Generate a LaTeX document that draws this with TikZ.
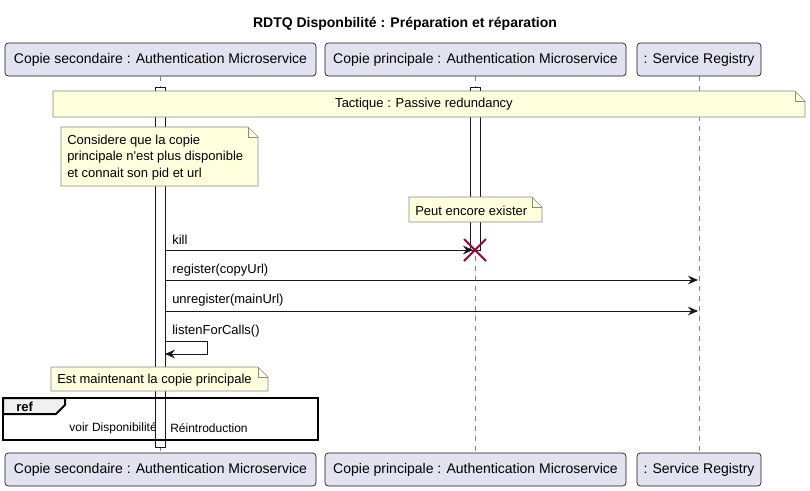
\documentclass[tikz,border=0pt]{standalone}
\usepackage{fontspec}
\setmainfont{Liberation Sans}
\usetikzlibrary{arrows.meta,calc}
\definecolor{partfill}{HTML}{E2E2F0}
\definecolor{notefill}{HTML}{FEFFDD}
\definecolor{deathred}{HTML}{A80036}
\definecolor{linegray}{HTML}{181818}
\definecolor{notegray}{HTML}{8A8A8A}
\begin{document}
\begin{tikzpicture}[x=0.75pt,y=-0.75pt,
 part/.style={draw=linegray, fill=partfill, rounded corners=2.5pt, inner sep=0pt, minimum height=24.75pt, font=\fontsize{10.5pt}{12pt}\selectfont, line width=0.5pt},
 lifeline/.style={draw=gray, dash pattern=on 3.75pt off 3.75pt, line width=0.5pt},
 actbar/.style={draw=linegray, fill=white, line width=0.75pt},
 notebox/.style={draw=notegray, fill=notefill, line width=0.5pt},
 msg/.style={draw=linegray, line width=0.75pt, -{Stealth[length=7.5pt,width=6.5pt,inset=2.5pt]}},
 lbl/.style={font=\fontsize{9.75pt}{11pt}\selectfont, inner sep=0pt, anchor=west},
 notetext/.style={font=\fontsize{9.75pt}{12.2pt}\selectfont, inner sep=0pt, anchor=west, align=left},
]
\useasboundingbox[fill=white] (0,0) rectangle (810,490);

% title
\node[font=\bfseries\fontsize{10.5pt}{12pt}\selectfont] (title) at (405,24) {RDTQ Disponbilité : Préparation et réparation};

% participants
\node[part, minimum width=233.25pt] (p1t) at (160.5,59.5) {Copie secondaire : Authentication Microservice};
\node[part, minimum width=225.75pt] (p2t) at (475.5,59.5) {Copie principale : Authentication Microservice};
\node[part, minimum width=93pt] (p3t) at (699,59.5) {: Service Registry};
\node[part, minimum width=233.25pt] (p1b) at (160.5,469.5) {Copie secondaire : Authentication Microservice};
\node[part, minimum width=225.75pt] (p2b) at (475.5,469.5) {Copie principale : Authentication Microservice};
\node[part, minimum width=93pt] (p3b) at (699,469.5) {: Service Registry};

% lifelines
\draw[lifeline] (p1t.south) -- (p1b.north);
\draw[lifeline] (p2t.south) -- (p2b.north);
\draw[lifeline] (p3t.south) -- (p3b.north);

% activation bars
\draw[actbar] (155,87) rectangle (165,447);
\draw[actbar] (470,87) rectangle (480,250);

% note: tactique
\draw[notebox] (53,91) -- (795,91) -- (805,101) -- (805,117) -- (53,117) -- cycle;
\draw[notebox, fill=none] (795,91) -- (795,101) -- (805,101);
\node[notetext, anchor=center] (n1) at (424,104.5) {Tactique : Passive redundancy};

% note: considere
\draw[notebox] (61,127) -- (248,127) -- (258,137) -- (258,186) -- (61,186) -- cycle;
\draw[notebox, fill=none] (248,127) -- (248,137) -- (258,137);
\node[notetext] (n2) at (67,157.5) {Considere que la copie\\principale n\textquotesingle est plus disponible\\et connait son pid et url};

% note: peut encore exister
\draw[notebox] (409,197) -- (532,197) -- (542,207) -- (542,222) -- (409,222) -- cycle;
\draw[notebox, fill=none] (532,197) -- (532,207) -- (542,207);
\node[notetext] (n3) at (415,210.5) {Peut encore exister};

% coordinates for messages
\coordinate (a1) at (165,250);
\coordinate (b1) at (473,250);
\coordinate (a2) at (165,280);
\coordinate (b2) at (698,280);
\coordinate (a3) at (165,311);
\coordinate (b3) at (698,311);
\coordinate (s1) at (165,341);
\coordinate (s2) at (207,341);
\coordinate (s3) at (207,354);
\coordinate (s4) at (165,354);
\coordinate (x0) at (475,250);

% messages
\draw[msg] (a1) -- (b1);
\node[lbl] (l1) at (172,240) {kill};
\draw[deathred, line width=1.5pt] ($(x0)+(-11,-11)$) -- ($(x0)+(11,11)$);
\draw[deathred, line width=1.5pt] ($(x0)+(-11,11)$) -- ($(x0)+(11,-11)$);
\draw[msg] (a2) -- (b2);
\node[lbl] (l2) at (172,270) {register(copyUrl)};
\draw[msg] (a3) -- (b3);
\node[lbl] (l3) at (172,300) {unregister(mainUrl)};
\draw[msg] (s1) -- (s2) -- (s3) -- (s4);
\node[lbl] (l4) at (172,331) {listenForCalls()};

% note: est maintenant
\draw[notebox] (51,367) -- (258,367) -- (268,377) -- (268,391) -- (51,391) -- cycle;
\draw[notebox, fill=none] (258,367) -- (258,377) -- (268,377);
\node[notetext] (n4) at (57,380.5) {Est maintenant la copie principale};

% ref frame
\draw[line width=1.5pt, draw=black] (3,398) rectangle (318,440);
\draw[line width=1.5pt, draw=black, fill=gray!12] (3,398) -- (65,398) -- (65,405) -- (56,414) -- (3,414) -- cycle;
\node[font=\bfseries\fontsize{9.75pt}{11pt}\selectfont, inner sep=0pt, anchor=west] (reft) at (16,406.5) {ref};
\node[font=\fontsize{9pt}{11pt}\selectfont, inner sep=0pt, anchor=east] (r1) at (157,428) {voir Disponibilité};
\node[font=\fontsize{9pt}{11pt}\selectfont, inner sep=0pt, anchor=west] (r2) at (170,428) {Réintroduction};
\draw[linegray, line width=0.75pt] (155,398) -- (155,447) (165,398) -- (165,447);
\end{tikzpicture}
\end{document}
